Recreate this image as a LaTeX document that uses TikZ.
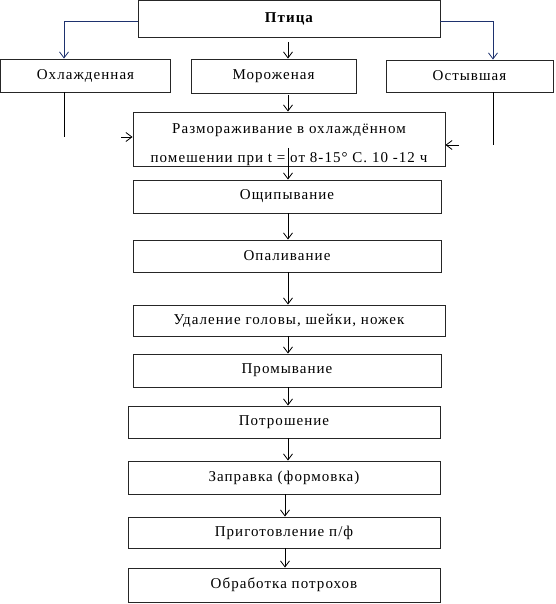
\documentclass[tikz,border=0pt]{standalone}
\usepackage{fontspec}
\setmainfont[LetterSpace=7]{Liberation Serif}
\usetikzlibrary{arrows.meta}
\definecolor{navy}{RGB}{30,50,110}
\tikzset{
  box/.style={draw=black!85, line width=0.9pt, inner sep=0pt, font=\fontsize{15}{17}\selectfont},
  arr/.style={draw=black, line width=0.8pt, -{Straight Barb[length=6pt,width=9pt]}},
  barr/.style={draw=navy, line width=0.8pt, -{Straight Barb[length=6pt,width=9pt]}},
  ln/.style={draw=black, line width=0.8pt}
}
\begin{document}
\begin{tikzpicture}[x=1pt,y=-1pt]
\useasboundingbox (0,0) rectangle (555,604);
\node[box, minimum width=302pt, minimum height=37pt, font=\fontsize{15}{17}\selectfont\bfseries] (ptica) at (289,18.5) {Птица};
\node[box, minimum width=170pt, minimum height=33pt] (ohl) at (85.5,75.5) {Охлажденная};
\node[box, minimum width=165pt, minimum height=34pt] (moro) at (273.5,76) {Мороженая};
\node[box, minimum width=167pt, minimum height=32pt] (ost) at (469.5,76) {Остывшая};
\node[box, minimum width=312pt, minimum height=54pt] (razm) at (289,139) {\raisebox{-9pt}[0pt][0pt]{\begin{tabular}{@{}c@{}}Размораживание в охлаждённом\\[12pt]помешении при t = от 8-15° С. 10 -12 ч\end{tabular}}};
\node[box, minimum width=308pt, minimum height=33pt] (oshch) at (287,196.5) {Ощипывание};
\node[box, minimum width=308pt, minimum height=32pt] (opal) at (287,256) {Опаливание};
\node[box, minimum width=312pt, minimum height=31pt] (udal) at (289,320.5) {Удаление головы, шейки, ножек};
\node[box, minimum width=308pt, minimum height=33pt] (prom) at (287,370.5) {Промывание};
\node[box, minimum width=312pt, minimum height=32pt] (potr) at (284,422) {Потрошение};
\node[box, minimum width=312pt, minimum height=33pt] (zapr) at (284,477.5) {Заправка (формовка)};
\node[box, minimum width=312pt, minimum height=31pt] (prig) at (284,532.5) {Приготовление п/ф};
\node[box, minimum width=312pt, minimum height=34pt] (obr) at (284,585) {Обработка потрохов};
% coordinates for free ends
\coordinate (c1) at (288,42);
\coordinate (c2) at (288,95);
\coordinate (lL) at (64,21);
\coordinate (lR) at (493,21);
\coordinate (dL) at (64,137);
\coordinate (dR) at (493,145);
\coordinate (aL) at (121,137);
\coordinate (aR) at (459,145);
\coordinate (c3) at (288,148);
% connectors
\draw[barr] (ptica.west |- lL) -- (lL) -- (lL |- ohl.north);
\draw[barr] (ptica.east |- lR) -- (lR) -- (lR |- ost.north);
\draw[arr] (c1) -- (c1 |- moro.north);
\draw[arr] (c2) -- (c2 |- razm.north);
\draw[ln] (dL |- ohl.south) -- (dL);
\draw[ln] (dR |- ost.south) -- (dR);
\draw[arr] (aL) -- (aL -| razm.west);
\draw[arr] (aR) -- (aR -| razm.east);
\draw[arr] (c3) -- (c3 |- oshch.north);
\draw[arr] (oshch.south -| c3) -- (opal.north -| c3);
\draw[arr] (opal.south -| c3) -- (udal.north -| c3);
\draw[arr] (udal.south -| c3) -- (prom.north -| c3);
\draw[arr] (prom.south -| c3) -- (potr.north -| c3);
\draw[arr] (potr.south -| c3) -- (zapr.north -| c3);
\coordinate (c4) at (285,0);
\draw[arr] (zapr.south -| c4) -- (prig.north -| c4);
\draw[arr] (prig.south -| c4) -- (obr.north -| c4);
\end{tikzpicture}
\end{document}
